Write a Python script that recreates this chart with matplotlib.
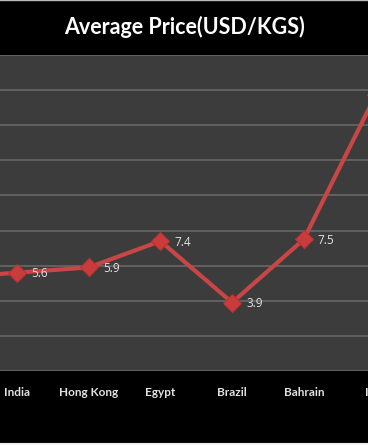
import matplotlib.pyplot as plt
from matplotlib.lines import Line2D

# categories (first and last are cut off by the frame in the reference)
countries = ['', 'India', 'Hong Kong', 'Egypt', 'Brazil', 'Bahrain', 'Iran']
prices = [5.3, 5.6, 5.9, 7.4, 3.9, 7.5, 15.7]
shown_labels = [1, 2, 3, 4, 5]

LINE_RED = '#c84646'
TEXT = '#e2e2e2'


def main():
    fig = plt.figure(figsize=(3.68, 4.45), dpi=100)
    fig.patch.set_facecolor('black')
    ax = fig.add_axes([0, 1 - 371 / 445, 1, (371 - 55) / 445])
    ax.set_facecolor('#3c3c3c')

    x = list(range(len(countries)))
    ax.plot(x, prices, color=LINE_RED, lw=3, marker='D', ms=9,
            mfc='#c83c3c', mec='#b83232', mew=0.8, zorder=3)
    for i in shown_labels:
        ax.annotate(f'{prices[i]:.1f}', (x[i], prices[i]), xytext=(14, -1),
                    textcoords='offset pixels', ha='left', va='center',
                    color=TEXT, fontsize=8.5, family='Open Sans', zorder=4)

    ax.set_xlim(0.763, 5.895)
    ax.set_ylim(0, 18)
    ax.set_yticks(range(0, 19, 2))
    ax.yaxis.grid(True, color='#6c6c6c', lw=1.1)
    ax.set_axisbelow(True)
    ax.tick_params(left=False, bottom=False, labelleft=False, labelbottom=False)
    for s in ax.spines.values():
        s.set_visible(False)

    # category labels, including the one cut off at the right edge
    for i in x:
        if countries[i]:
            ax.annotate(countries[i], (i, 0), xycoords=ax.get_xaxis_transform(),
                        xytext=(0, -21), textcoords='offset pixels',
                        annotation_clip=False, ha='center', va='center',
                        color=TEXT, fontsize=8.5, fontweight='bold', family='Lato')
    fig.suptitle('Average Price(USD/KGS)', y=1 - 27 / 445, va='center',
                 color='white', fontsize=15.5, fontweight='bold', family='Lato')

    fig.add_artist(Line2D([0, 1], [0.999, 0.999], color='#bbbbbb', lw=1,
                          transform=fig.transFigure))
    fig.add_artist(Line2D([0, 1], [0.002, 0.002], color='#f0f0f0', lw=1.5,
                          transform=fig.transFigure))

    fig.savefig('out.png', dpi=100, facecolor=fig.get_facecolor())


if __name__ == '__main__':
    main()
